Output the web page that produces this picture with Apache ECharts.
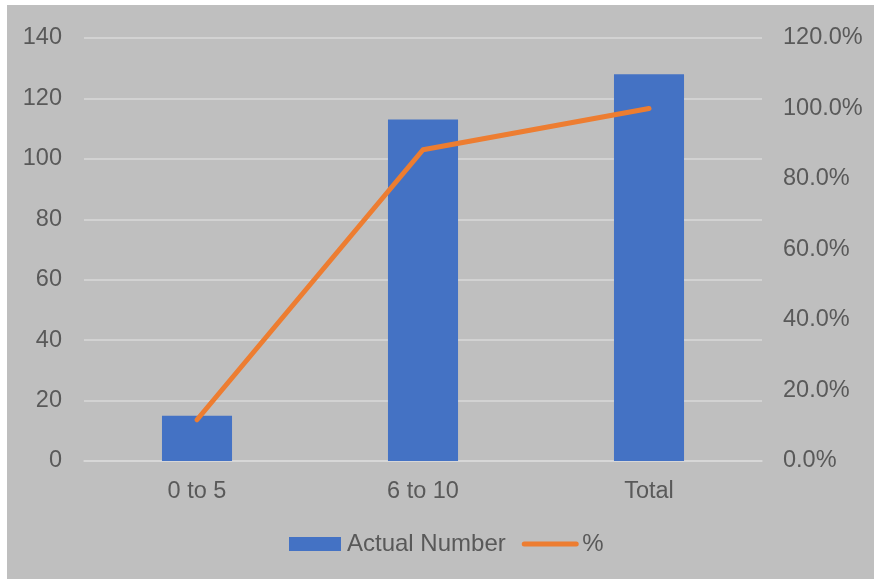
<!DOCTYPE html>
<html>
<head>
<meta charset="utf-8">
<script src="https://cdn.jsdelivr.net/npm/echarts@6/dist/echarts.min.js"></script>
<style>
html,body{margin:0;padding:0;background:#ffffff;}
#wrap{position:relative;width:874px;height:579px;overflow:hidden;}
#bg{position:absolute;left:7px;top:5px;right:0;bottom:0;background:#bfbfbf;}
#chart{position:absolute;left:0;top:0;width:874px;height:579px;}
</style>
</head>
<body>
<div id="wrap"><div id="bg"></div><div id="chart"></div></div>
<script>
const categories = ['0 to 5', '6 to 10', 'Total'];
const actualNumber = [15, 113, 128];
const percent = [0.117, 0.883, 1.0];
const leftTicks = {min: 0, max: 140, interval: 20};
const rightTicks = {min: 0, max: 1.2, interval: 0.2};

const FONT = '"Liberation Sans", Arial, sans-serif';
const chart = echarts.init(document.getElementById('chart'));
chart.setOption({
  backgroundColor: 'transparent',
  textStyle: {fontFamily: FONT},
  grid: {left: 84, right: 112, top: 38, bottom: 118, containLabel: false},
  legend: {
    bottom: 18,
    left: 284,
    itemGap: 16,
    itemWidth: 52,
    itemHeight: 14,
    textStyle: {fontFamily: FONT, fontSize: 24, color: '#595959', padding: [0, 0, 0, 1]},
    data: [
      {name: 'Actual Number', icon: 'rect'},
      {name: '%', itemStyle: {opacity: 0}, lineStyle: {width: 5, cap: 'round', color: '#ed7d31'}}
    ]
  },
  xAxis: {
    type: 'category',
    data: categories,
    axisLine: {lineStyle: {color: '#d9d9d9', width: 1.5}},
    axisTick: {show: false},
    axisLabel: {fontFamily: FONT, fontSize: 23.5, color: '#595959', margin: 19}
  },
  yAxis: [
    {
      type: 'value',
      min: leftTicks.min, max: leftTicks.max, interval: leftTicks.interval,
      axisLine: {show: false},
      axisTick: {show: false},
      splitLine: {lineStyle: {color: '#d9d9d9', width: 1.5}},
      axisLabel: {fontFamily: FONT, fontSize: 23.5, color: '#595959', margin: 22, padding: [8, 0, 0, 0]}
    },
    {
      type: 'value',
      min: rightTicks.min, max: rightTicks.max, interval: rightTicks.interval,
      axisLine: {show: false},
      axisTick: {show: false},
      splitLine: {show: false},
      axisLabel: {
        fontFamily: FONT, fontSize: 23.5, color: '#595959', margin: 21, padding: [8, 0, 0, 0],
        formatter: v => (v * 100).toFixed(1) + '%'
      }
    }
  ],
  series: [
    {
      name: 'Actual Number',
      type: 'bar',
      data: actualNumber,
      barWidth: '31%',
      itemStyle: {color: '#4472c4'},
      z: 2
    },
    {
      name: '%',
      type: 'line',
      yAxisIndex: 1,
      data: percent,
      symbol: 'none',
      lineStyle: {color: '#ed7d31', width: 5, cap: 'round', join: 'round'},
      itemStyle: {color: '#ed7d31'},
      z: 3
    }
  ]
});
</script>
</body>
</html>
